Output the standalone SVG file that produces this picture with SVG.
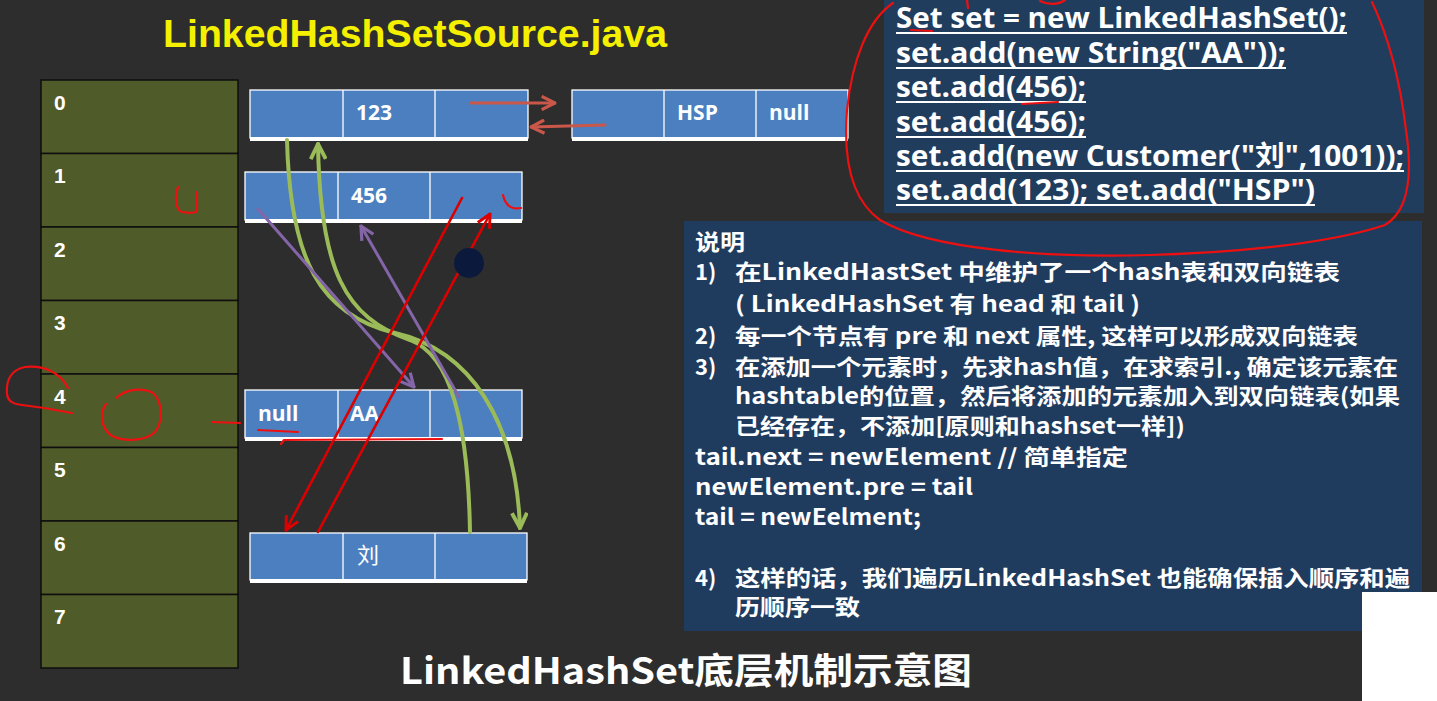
<svg xmlns="http://www.w3.org/2000/svg" width="1437" height="701" viewBox="0 0 1437 701">
<defs>
<style>
.bg{fill:#2d2d2d}
.cell{fill:#4f5b29;stroke:#0e0e0e;stroke-width:1.5}
.idx{font-family:"Liberation Sans","Noto Sans CJK SC",sans-serif;font-weight:bold;font-size:21px;fill:#ffffff}
.node{fill:#4c7fbf;stroke:#ffffff;stroke-width:1.3}
.sep{stroke:#ffffff;stroke-width:1.3}
.nbot{fill:#ffffff}
.nt{font-family:"Open Sans","Noto Sans CJK SC",sans-serif;font-weight:bold;font-size:21px;fill:#ffffff}
.nt2{font-family:"Noto Sans CJK SC",sans-serif;font-weight:normal;font-size:22px;fill:#ffffff}
.code{font-family:"Open Sans","Noto Sans CJK SC",sans-serif;font-weight:bold;font-size:28px;fill:#ffffff}
.ul{stroke:#ffffff;stroke-width:2}
.ex{font-family:"Noto Sans CJK SC",sans-serif;font-weight:bold;font-size:22px;fill:#ffffff}
.pen{fill:none;stroke:#ee1010;stroke-width:2.2;stroke-linecap:round;stroke-linejoin:round}
.sal{fill:none;stroke:#c9574a;stroke-width:3;stroke-linecap:round}
.grn{fill:none;stroke:#9bbb59;stroke-width:4;stroke-linecap:round}
.pur{fill:none;stroke:#8466a8;stroke-width:3;stroke-linecap:round}
.red{fill:none;stroke:#dd0000;stroke-width:2.6;stroke-linecap:round}
</style>
<marker id="mSal" viewBox="0 0 12 12" refX="11" refY="6" markerWidth="16" markerHeight="16" orient="auto" markerUnits="userSpaceOnUse"><path d="M1,1 L11,6 L1,11" fill="none" stroke="#c9574a" stroke-width="2.4"/></marker>
<marker id="mGrn" viewBox="0 0 12 12" refX="11" refY="6" markerWidth="18" markerHeight="18" orient="auto" markerUnits="userSpaceOnUse"><path d="M1,1 L11,6 L1,11" fill="none" stroke="#9bbb59" stroke-width="2.6"/></marker>
<marker id="mPur" viewBox="0 0 12 12" refX="11" refY="6" markerWidth="16" markerHeight="16" orient="auto" markerUnits="userSpaceOnUse"><path d="M1,1 L11,6 L1,11" fill="none" stroke="#8466a8" stroke-width="2.4"/></marker>
<marker id="mRed" viewBox="0 0 12 12" refX="11" refY="6" markerWidth="16" markerHeight="16" orient="auto" markerUnits="userSpaceOnUse"><path d="M1,1 L11,6 L1,11" fill="none" stroke="#dd0000" stroke-width="2.2"/></marker>
</defs>

<rect class="bg" x="0" y="0" width="1437" height="701"/>

<g id="title">
<text x="163" y="47" font-family="Liberation Sans, sans-serif" font-weight="bold" font-size="38" fill="#f4f000" textLength="504" lengthAdjust="spacingAndGlyphs">LinkedHashSetSource.java</text>
</g>

<g id="table">
<rect class="cell" x="41" y="80" width="197" height="73.5"/>
<rect class="cell" x="41" y="153.5" width="197" height="73.5"/>
<rect class="cell" x="41" y="227" width="197" height="73.5"/>
<rect class="cell" x="41" y="300.5" width="197" height="73.5"/>
<rect class="cell" x="41" y="374" width="197" height="73.5"/>
<rect class="cell" x="41" y="447.5" width="197" height="73.5"/>
<rect class="cell" x="41" y="521" width="197" height="73.5"/>
<rect class="cell" x="41" y="594.5" width="197" height="73.5"/>
<text class="idx" x="54" y="110">0</text>
<text class="idx" x="54" y="183">1</text>
<text class="idx" x="54" y="257">2</text>
<text class="idx" x="54" y="330">3</text>
<text class="idx" x="54" y="404">4</text>
<text class="idx" x="54" y="477">5</text>
<text class="idx" x="54" y="551">6</text>
<text class="idx" x="54" y="624">7</text>
</g>

<g id="node-123">
<rect class="node" x="250" y="90" width="278" height="48"/>
<line class="sep" x1="343" y1="90" x2="343" y2="138"/>
<line class="sep" x1="435" y1="90" x2="435" y2="138"/>
<rect class="nbot" x="250" y="137" width="278" height="4"/>
<text class="nt" x="356" y="120">123</text>
</g>

<g id="node-hsp">
<rect class="node" x="572" y="90" width="276" height="48"/>
<line class="sep" x1="664" y1="90" x2="664" y2="138"/>
<line class="sep" x1="756" y1="90" x2="756" y2="138"/>
<rect class="nbot" x="572" y="137" width="276" height="4"/>
<text class="nt" x="677" y="120">HSP</text>
<text class="nt" x="769" y="120">null</text>
</g>

<g id="node-456">
<rect class="node" x="245" y="172" width="277" height="48"/>
<line class="sep" x1="338" y1="172" x2="338" y2="220"/>
<line class="sep" x1="430" y1="172" x2="430" y2="220"/>
<rect class="nbot" x="245" y="219" width="277" height="4"/>
<text class="nt" x="351" y="203">456</text>
</g>

<g id="node-aa">
<rect class="node" x="245" y="390" width="277" height="48"/>
<line class="sep" x1="338" y1="390" x2="338" y2="438"/>
<line class="sep" x1="430" y1="390" x2="430" y2="438"/>
<rect class="nbot" x="245" y="437" width="277" height="4"/>
<text class="nt" x="258" y="421">null</text>
<text class="nt" x="350" y="421">AA</text>
</g>

<g id="node-liu">
<rect class="node" x="250" y="533" width="277" height="47"/>
<line class="sep" x1="343" y1="533" x2="343" y2="580"/>
<line class="sep" x1="435" y1="533" x2="435" y2="580"/>
<rect class="nbot" x="250" y="579" width="277" height="4"/>
<text class="nt2" x="357" y="563">刘</text>
</g>

<g id="code-box">
<rect x="884" y="0" width="540" height="213" fill="#203d5e"/>
<text class="code" x="896" y="28" textLength="451" lengthAdjust="spacingAndGlyphs">Set set = new LinkedHashSet();</text>
<text class="code" x="896" y="63" textLength="390" lengthAdjust="spacingAndGlyphs">set.add(new String("AA"));</text>
<text class="code" x="896" y="97" textLength="190" lengthAdjust="spacingAndGlyphs">set.add(456);</text>
<text class="code" x="896" y="132" textLength="190" lengthAdjust="spacingAndGlyphs">set.add(456);</text>
<text class="code" x="896" y="166" textLength="508" lengthAdjust="spacingAndGlyphs">set.add(new Customer("刘",1001));</text>
<text class="code" x="896" y="200" textLength="419" lengthAdjust="spacingAndGlyphs">set.add(123); set.add("HSP")</text>
<line class="ul" x1="896" y1="33" x2="1347" y2="33"/>
<line class="ul" x1="896" y1="68" x2="1286" y2="68"/>
<line class="ul" x1="896" y1="102" x2="1086" y2="102"/>
<line class="ul" x1="896" y1="137" x2="1086" y2="137"/>
<line class="ul" x1="896" y1="171" x2="1404" y2="171"/>
<line class="ul" x1="896" y1="205" x2="1315" y2="205"/>
</g>

<g id="explain-box">
<rect x="684" y="221" width="738" height="410" fill="#1f3c5f"/>
<text class="ex" x="695" y="250" textLength="50" lengthAdjust="spacingAndGlyphs">说明</text>
<text class="ex" x="695" y="280">1)</text>
<text class="ex" x="735" y="280" textLength="605" lengthAdjust="spacingAndGlyphs">在LinkedHastSet 中维护了一个hash表和双向链表</text>
<text class="ex" x="735" y="312" textLength="405" lengthAdjust="spacingAndGlyphs">( LinkedHashSet 有 head 和 tail )</text>
<text class="ex" x="695" y="344">2)</text>
<text class="ex" x="735" y="344" textLength="623" lengthAdjust="spacingAndGlyphs">每一个节点有 pre 和 next 属性, 这样可以形成双向链表</text>
<text class="ex" x="695" y="375">3)</text>
<text class="ex" x="735" y="375" textLength="663" lengthAdjust="spacingAndGlyphs">在添加一个元素时，先求hash值，在求索引., 确定该元素在</text>
<text class="ex" x="735" y="404" textLength="665" lengthAdjust="spacingAndGlyphs">hashtable的位置，然后将添加的元素加入到双向链表(如果</text>
<text class="ex" x="735" y="434" textLength="450" lengthAdjust="spacingAndGlyphs">已经存在，不添加[原则和hashset一样])</text>
<text class="ex" x="695" y="465" textLength="433" lengthAdjust="spacingAndGlyphs">tail.next = newElement // 简单指定</text>
<text class="ex" x="695" y="495" textLength="278" lengthAdjust="spacingAndGlyphs">newElement.pre = tail</text>
<text class="ex" x="695" y="525" textLength="226" lengthAdjust="spacingAndGlyphs">tail = newEelment;</text>
<text class="ex" x="695" y="586">4)</text>
<text class="ex" x="735" y="586" textLength="675" lengthAdjust="spacingAndGlyphs">这样的话，我们遍历LinkedHashSet 也能确保插入顺序和遍</text>
<text class="ex" x="735" y="615" textLength="125" lengthAdjust="spacingAndGlyphs">历顺序一致</text>
</g>

<rect x="1362" y="592" width="75" height="109" fill="#ffffff"/>

<g id="bottom-title">
<text x="400" y="684" font-family="Noto Sans CJK SC, sans-serif" font-weight="bold" font-size="36" fill="#ffffff" textLength="572" lengthAdjust="spacingAndGlyphs">LinkedHashSet底层机制示意图</text>
</g>

<g id="connectors">
<line class="sal" x1="471" y1="103" x2="555" y2="103" marker-end="url(#mSal)"/>
<line class="sal" x1="605" y1="125" x2="531" y2="127" marker-end="url(#mSal)"/>
<path class="grn" d="M287,140 C290,260 320,315 395,333 C470,350 516,420 520,528" marker-end="url(#mGrn)"/>
<path class="grn" d="M470,532 C468,420 450,355 410,340 C345,318 320,270 318,144" marker-end="url(#mGrn)"/>
<line class="pur" x1="258" y1="209" x2="414" y2="387" marker-end="url(#mPur)"/>
<line class="pur" x1="459" y1="397" x2="361" y2="226" marker-end="url(#mPur)"/>
<line class="red" x1="462" y1="198" x2="286" y2="530" marker-end="url(#mRed)"/>
<line class="red" x1="318" y1="532" x2="490" y2="214" marker-end="url(#mRed)"/>
</g>

<g id="cursor">
<circle cx="469" cy="263" r="15" fill="#0b1a3c"/>
</g>

<g id="annotations">
<path class="pen" d="M893,3 C868,20 852,60 847,110 C843,160 852,200 880,220 C930,250 1050,258 1150,255 C1260,252 1340,240 1385,225 C1410,210 1412,170 1406,130 C1400,80 1390,40 1372,2"/>
<path class="pen" d="M911,30 L932,31"/>
<path class="pen" d="M967,0 L968,8"/>
<path class="pen" d="M1040,1 C1048,5 1058,5 1065,0"/>
<path class="pen" d="M1022,104 L1058,102"/>
<path class="pen" d="M178,187 C174,198 176,210 182,212 C188,213 195,213 197,211 L197,192"/>
<path class="pen" d="M503,195 C505,204 510,210 521,208"/>
<path class="pen" d="M68,388 C60,372 43,365 25,367 C10,370 6,382 7,394 C8,402 14,404 22,405 C40,407 58,410 72,413"/>
<path class="pen" d="M116,398 C126,389 142,387 153,393 C163,402 163,422 155,432 C146,441 125,442 112,436 C100,428 100,412 106,404"/>
<path class="pen" d="M212,422 L240,423"/>
<path class="pen" d="M258,430 L298,432"/>
<path class="pen" d="M281,444 L284,440 L442,439"/>
</g>
</svg>
